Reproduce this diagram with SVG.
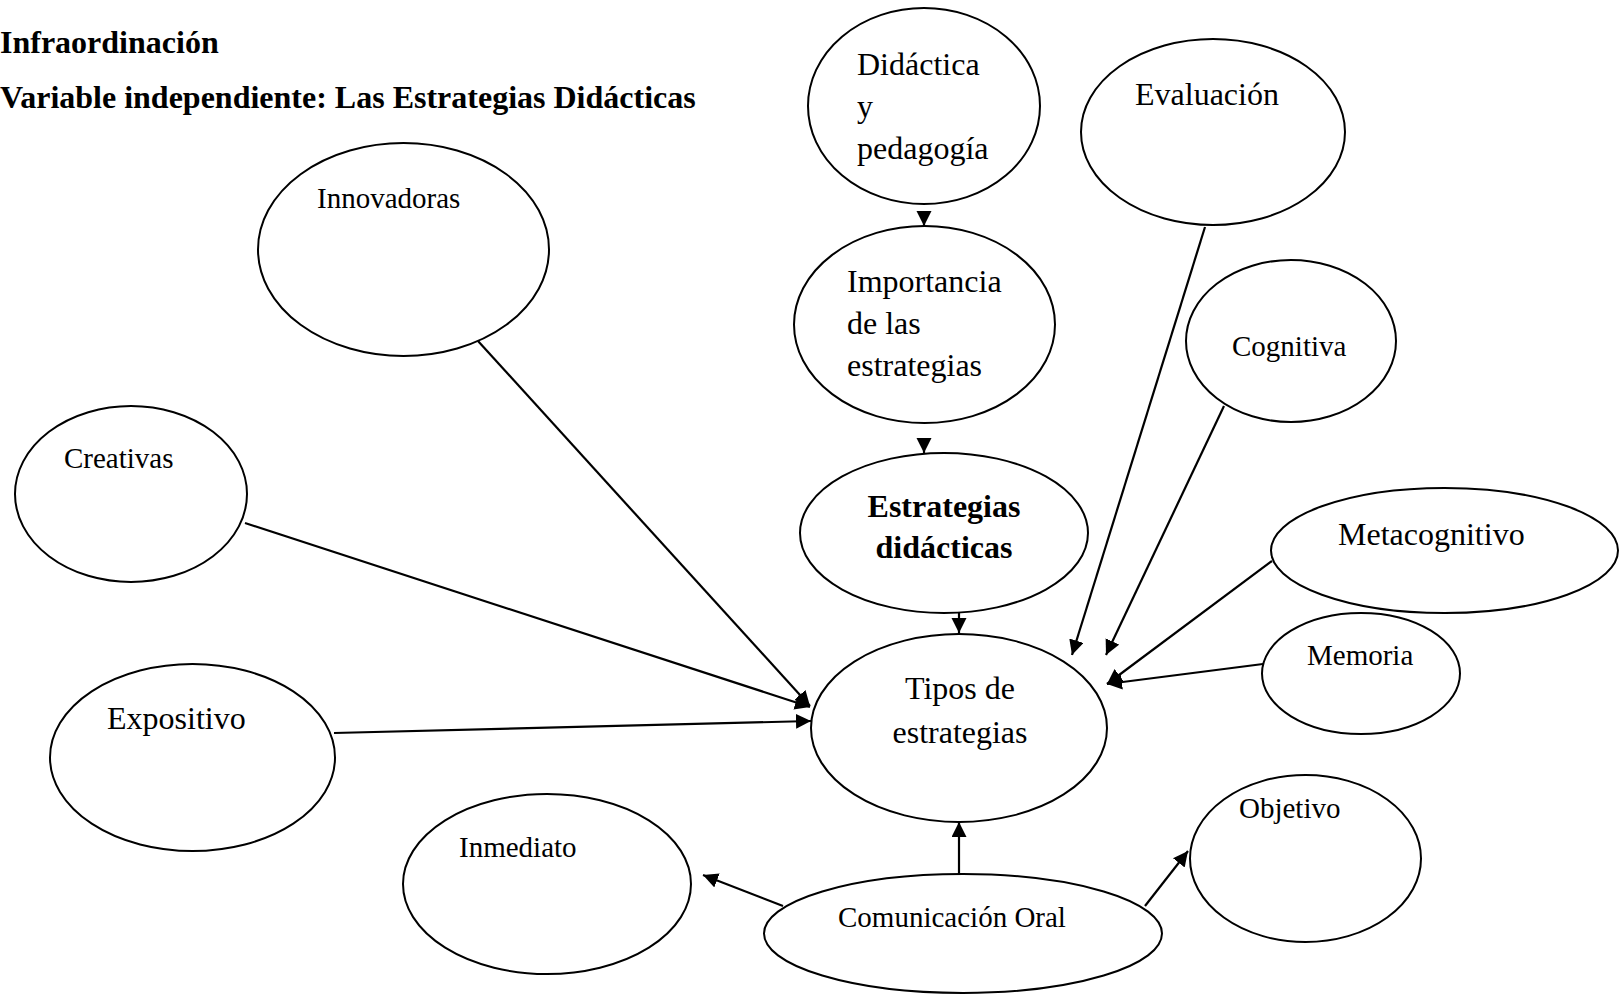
<svg xmlns="http://www.w3.org/2000/svg" width="1621" height="995" viewBox="0 0 1621 995">
<style>
.n{fill:#fff;stroke:#000;stroke-width:2}
.t{font-family:"Liberation Serif","Times New Roman",serif;fill:#000}
.s29{font-size:29px}
.s32{font-size:32px}
.b{font-weight:bold;font-size:32px}
.c{stroke:#000;stroke-width:2.2;fill:none;marker-end:url(#ah)}
</style>
<defs>
<marker id="ah" markerUnits="userSpaceOnUse" markerWidth="16" markerHeight="16" refX="15" refY="7.5" orient="auto">
<path d="M0,0 L15,7.5 L0,15 z" fill="#000"/>
</marker>
</defs>
<rect width="1621" height="995" fill="#fff"/>
<g id="title">
<text class="t b" x="0" y="53">Infraordinación</text>
<text class="t b" x="0" y="108">Variable independiente: Las Estrategias Didácticas</text>
</g>
<g id="connectors">
<line class="c" x1="924" y1="212" x2="924" y2="226"/>
<line class="c" x1="924" y1="438" x2="924" y2="453"/>
<line class="c" x1="959" y1="612" x2="959" y2="633"/>
<line class="c" x1="478" y1="341" x2="810" y2="706"/>
<line class="c" x1="245" y1="523" x2="810" y2="707"/>
<line class="c" x1="334" y1="733" x2="811" y2="721"/>
<line class="c" x1="1205" y1="227" x2="1072" y2="655"/>
<line class="c" x1="1224" y1="406" x2="1106" y2="655"/>
<line class="c" x1="1272" y1="561" x2="1107" y2="684"/>
<line class="c" x1="1263" y1="664" x2="1107" y2="684"/>
<line class="c" x1="959" y1="874" x2="959" y2="822"/>
<line class="c" x1="783" y1="906" x2="703" y2="875"/>
<line class="c" x1="1145" y1="906" x2="1188" y2="851"/>
</g>
<g id="didactica">
<ellipse class="n" cx="924" cy="106" rx="116" ry="98"/>
<text class="t s32" x="857" y="75">Didáctica</text>
<text class="t s32" x="857" y="117">y</text>
<text class="t s32" x="857" y="159">pedagogía</text>
</g>
<g id="importancia">
<ellipse class="n" cx="924.5" cy="324.5" rx="130.5" ry="98.5"/>
<text class="t s32" x="847" y="292">Importancia</text>
<text class="t s32" x="847" y="334">de las</text>
<text class="t s32" x="847" y="376">estrategias</text>
</g>
<g id="estrategias">
<ellipse class="n" cx="944" cy="533" rx="144" ry="80"/>
<text class="t b" x="944" y="517" text-anchor="middle">Estrategias</text>
<text class="t b" x="944" y="558" text-anchor="middle">didácticas</text>
</g>
<g id="tipos">
<ellipse class="n" cx="959" cy="728" rx="148" ry="94"/>
<text class="t s32" x="960" y="699" text-anchor="middle">Tipos de</text>
<text class="t s32" x="960" y="743" text-anchor="middle">estrategias</text>
</g>
<g id="innovadoras">
<ellipse class="n" cx="403.5" cy="249.5" rx="145.5" ry="106.5"/>
<text class="t s29" x="317" y="208">Innovadoras</text>
</g>
<g id="creativas">
<ellipse class="n" cx="131" cy="494" rx="116" ry="88"/>
<text class="t s29" x="64" y="468">Creativas</text>
</g>
<g id="expositivo">
<ellipse class="n" cx="192.5" cy="757.5" rx="142.5" ry="93.5"/>
<text class="t s32" x="107" y="729">Expositivo</text>
</g>
<g id="inmediato">
<ellipse class="n" cx="547" cy="884" rx="144" ry="90"/>
<text class="t s29" x="459" y="857">Inmediato</text>
</g>
<g id="comunicacion">
<ellipse class="n" cx="963" cy="933.5" rx="199" ry="59.5"/>
<text class="t s29" x="838" y="927">Comunicación Oral</text>
</g>
<g id="objetivo">
<ellipse class="n" cx="1305.5" cy="858.5" rx="115.5" ry="83.5"/>
<text class="t s29" x="1239" y="818">Objetivo</text>
</g>
<g id="evaluacion">
<ellipse class="n" cx="1213" cy="132" rx="132" ry="93"/>
<text class="t s32" x="1135" y="105">Evaluación</text>
</g>
<g id="cognitiva">
<ellipse class="n" cx="1291" cy="341" rx="105" ry="81"/>
<text class="t s29" x="1232" y="356">Cognitiva</text>
</g>
<g id="metacognitivo">
<ellipse class="n" cx="1444.5" cy="550.5" rx="173.5" ry="62.5"/>
<text class="t s32" x="1338" y="545">Metacognitivo</text>
</g>
<g id="memoria">
<ellipse class="n" cx="1361" cy="673.5" rx="99" ry="60.5"/>
<text class="t s29" x="1307" y="665">Memoria</text>
</g>
</svg>
